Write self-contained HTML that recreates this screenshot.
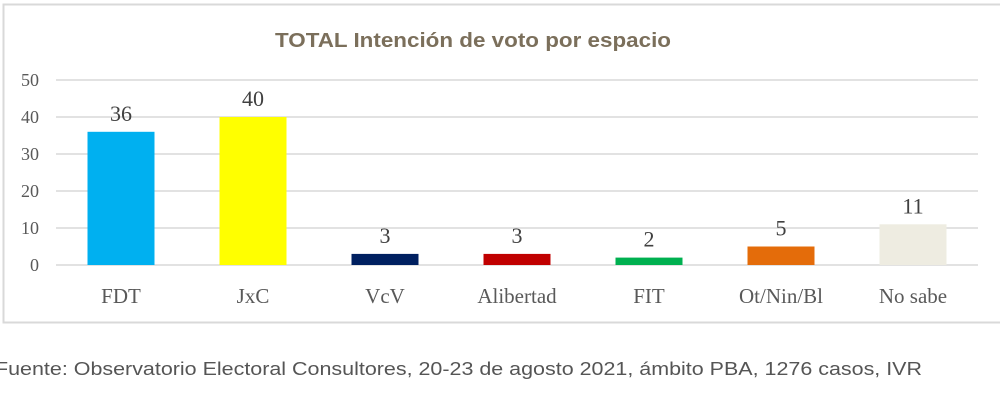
<!DOCTYPE html>
<html><head><meta charset="utf-8"><style>
body{margin:0;background:#fff;width:1000px;height:404px;overflow:hidden;font-family:"Liberation Serif",serif}
</style></head><body>
<svg width="1000" height="404">
<rect x="3.5" y="4.5" width="1010" height="318" fill="#fff" stroke="#d9d9d9" stroke-width="2"/>
<text x="473" y="47" text-anchor="middle" font-family="Liberation Sans, sans-serif" font-weight="bold" font-size="20" textLength="396" lengthAdjust="spacingAndGlyphs" fill="#7b6f5b">TOTAL Intención de voto por espacio</text>
<g id="grid"></g><g id="bars"></g>
<text x="-5" y="375" font-family="Liberation Sans, sans-serif" font-size="18" textLength="927" lengthAdjust="spacingAndGlyphs" fill="#555">Fuente: Observatorio Electoral Consultores, 20-23 de agosto 2021, ámbito PBA, 1276 casos, IVR</text>
</svg>
<script>
const categories=["FDT","JxC","VcV","Alibertad","FIT","Ot/Nin/Bl","No sabe"];
const values=[36,40,3,3,2,5,11];
const colors=["#00b0f0","#ffff00","#002060","#c00000","#00b050","#e46c0a","#eeece1"];
const ticks=[0,10,20,30,40,50];
const NS="http://www.w3.org/2000/svg";
const y=v=>265-v*3.7;
const x=i=>121+i*132;
const g=document.getElementById('grid'),b=document.getElementById('bars');
function mk(p,t,a){const e=document.createElementNS(NS,t);for(const k in a)e.setAttribute(k,a[k]);p.appendChild(e);return e;}
ticks.forEach(t=>{
 const l=mk(g,'line',{x1:56,x2:978,y1:y(t),y2:y(t),stroke:'#d9d9d9','stroke-width':1.5});
 
 
 const tx=mk(g,'text',{x:39,y:y(t)+6,'text-anchor':'end','font-size':18,fill:'#595959'});
 tx.textContent=t;
 
 
});
categories.forEach((c,i)=>{
 const r=mk(b,'rect',{x:x(i)-33.5,y:y(values[i]),width:67,height:265-y(values[i]),fill:colors[i]});
 
 
 const v=mk(b,'text',{x:x(i),y:y(values[i])-11,'text-anchor':'middle','font-size':22,fill:'#404040'});
 v.textContent=values[i];
 
 
 const lb=mk(b,'text',{x:x(i),y:303,'text-anchor':'middle','font-size':21,fill:'#595959'});
 lb.textContent=c;
 
 
});
</script>
</body></html>
